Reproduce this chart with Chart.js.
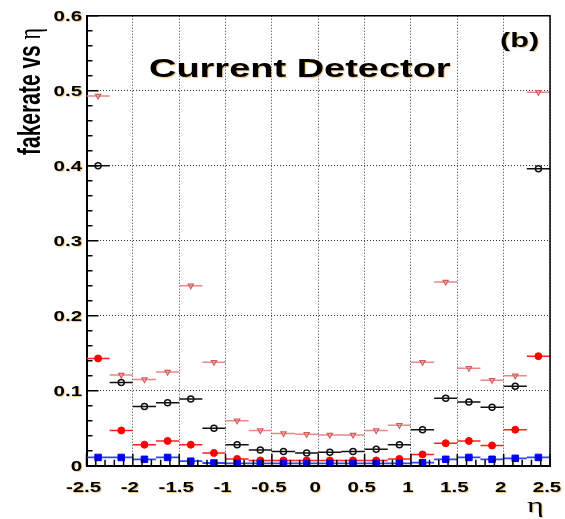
<!DOCTYPE html>
<html>
<head>
<meta charset="utf-8">
<script src="https://cdn.jsdelivr.net/npm/chart.js@4/dist/chart.umd.min.js"></script>
<style>
  html, body { margin: 0; padding: 0; background: #fff; }
  #wrap { width: 565px; height: 519px; }
</style>
</head>
<body>
<div id="wrap"><canvas id="chart" width="565" height="519"></canvas></div>
<script>
// bin edges in eta (20 bins of 0.25)
var etaEdges = [-2.5, -2.25, -2, -1.75, -1.5, -1.25, -1, -0.75, -0.5, -0.25, 0,
                0.25, 0.5, 0.75, 1, 1.25, 1.5, 1.75, 2, 2.25, 2.5];

// fake rate per bin
var fakePink  = [0.493, 0.121, 0.115, 0.125, 0.240, 0.138, 0.060, 0.047, 0.043, 0.042,
                 0.041, 0.041, 0.047, 0.054, 0.138, 0.245, 0.130, 0.114, 0.120, 0.498];
var fakeBlack = [0.400, 0.111, 0.079, 0.084, 0.089, 0.050, 0.028, 0.021, 0.019, 0.017,
                 0.018, 0.019, 0.022, 0.028, 0.048, 0.090, 0.085, 0.078, 0.106, 0.396];
var fakeRed   = [0.143, 0.047, 0.028, 0.033, 0.028, 0.017, 0.009, 0.007, 0.007, 0.007,
                 0.007, 0.007, 0.007, 0.009, 0.015, 0.030, 0.033, 0.027, 0.048, 0.146];
var fakeBlue  = [0.011, 0.011, 0.0085, 0.011, 0.006, 0.0036, 0.003, 0.003, 0.003, 0.003,
                 0.003, 0.003, 0.003, 0.003, 0.004, 0.0085, 0.011, 0.0085, 0.0098, 0.011];

var xTickLabels = ['-2.5', '-2', '-1.5', '-1', '-0.5', '0', '0.5', '1', '1.5', '2', '2.5'];
var yTickLabels = ['0', '0.1', '0.2', '0.3', '0.4', '0.5', '0.6'];

var SX = 1.46; // the picture is stretched sideways, text too

// each bin -> left edge, centre (marker), right edge, then a gap
function binSegments(values) {
    var pts = [];
    for (var i = 0; i < values.length; i++) {
        pts.push({x: etaEdges[i], y: values[i]});
        pts.push({x: (etaEdges[i] + etaEdges[i + 1]) / 2, y: values[i]});
        pts.push({x: etaEdges[i + 1], y: values[i]});
        pts.push({x: etaEdges[i + 1], y: null});
    }
    return pts;
}

function markerOnly(r) {
    return function (ctx) { return ctx.index % 4 === 1 ? r : 0; };
}

function stretchedText(ctx, txt, x, y, font, align) {
    ctx.save();
    ctx.font = font;
    ctx.textAlign = align || 'left';
    ctx.textBaseline = 'alphabetic';
    ctx.shadowColor = 'rgba(220,150,20,0.55)';
    ctx.shadowOffsetX = 1;
    ctx.shadowOffsetY = 1;
    ctx.shadowBlur = 1;
    ctx.translate(x, y);
    ctx.scale(SX, 1);
    ctx.fillText(txt, 0, 0);
    ctx.restore();
}

var frameAndText = {
    id: 'frameAndText',
    afterDraw: function (chart) {
        var ctx = chart.ctx;
        var a = chart.chartArea;
        var xs = chart.scales.x;
        var ys = chart.scales.y;
        ctx.save();
        ctx.strokeStyle = '#000';
        ctx.fillStyle = '#000';

        // top / right frame
        ctx.lineWidth = 1.5;
        ctx.beginPath();
        ctx.moveTo(a.left, a.top);
        ctx.lineTo(a.right, a.top);
        ctx.lineTo(a.right, a.bottom);
        ctx.stroke();

        // inward ticks
        ctx.lineWidth = 1.5;
        ctx.beginPath();
        for (var k = 0; k <= 50; k++) {
            var xv = -2.5 + k * 0.1;
            var px = xs.getPixelForValue(xv);
            var len = (k % 5 === 0) ? 12 : 6;
            ctx.moveTo(px, a.bottom);
            ctx.lineTo(px, a.bottom - len);
        }
        for (var j = 0; j <= 30; j++) {
            var yv = j * 0.02;
            var py = ys.getPixelForValue(yv);
            var ylen = (j % 5 === 0) ? 12 : 6;
            ctx.moveTo(a.left, py);
            ctx.lineTo(a.left + ylen, py);
        }
        ctx.stroke();

        // tick labels
        var tickFont = 'bold 14px "Liberation Sans", Arial, sans-serif';
        for (var i = 0; i < xTickLabels.length; i++) {
            var lx = xs.getPixelForValue(parseFloat(xTickLabels[i]));
            stretchedText(ctx, xTickLabels[i], lx - 3, 492, tickFont, 'center');
        }
        for (var m = 0; m < yTickLabels.length; m++) {
            var ly = ys.getPixelForValue(parseFloat(yTickLabels[m]));
            stretchedText(ctx, yTickLabels[m], 82, ly + 5, tickFont, 'right');
        }

        // titles
        stretchedText(ctx, 'Current Detector', 149, 77, 'bold 26px "Liberation Sans", Arial, sans-serif', 'left');
        stretchedText(ctx, '(b)', 500, 47, 'bold 21px "Liberation Sans", Arial, sans-serif', 'left');
        stretchedText(ctx, '\u03b7', 527, 512, '22px "Liberation Serif", "DejaVu Serif", serif', 'left');

        // y title, rotated
        ctx.save();
        ctx.translate(40, 155);
        ctx.rotate(-Math.PI / 2);
        ctx.scale(1, 1.48);
        ctx.textAlign = 'left';
        ctx.textBaseline = 'alphabetic';
        ctx.font = 'bold 21px "Liberation Sans", Arial, sans-serif';
        var lead = 'fakerate vs ';
        ctx.fillText(lead, 0, 0);
        var w = ctx.measureText(lead).width;
        ctx.font = '22px "Liberation Serif", "DejaVu Serif", serif';
        ctx.fillText('\u03b7', w, 0);
        ctx.restore();

        ctx.restore();
    }
};

new Chart(document.getElementById('chart').getContext('2d'), {
    type: 'line',
    data: {
        datasets: [{
            label: 'blue',
            data: binSegments(fakeBlue),
            borderColor: '#3344ff',
            backgroundColor: '#0000ff',
            pointBorderColor: '#0000ff',
            borderWidth: 1.8,
            pointStyle: 'rect',
            pointRadius: markerOnly(4.6),
            pointBorderWidth: 1
        }, {
            label: 'red',
            data: binSegments(fakeRed),
            borderColor: '#ff2020',
            backgroundColor: '#ff0000',
            pointBorderColor: '#ff0000',
            borderWidth: 1.6,
            pointStyle: 'circle',
            pointRadius: markerOnly(3.5),
            pointBorderWidth: 1
        }, {
            label: 'black',
            data: binSegments(fakeBlack),
            borderColor: '#111',
            backgroundColor: 'rgba(255,255,255,0)',
            pointBorderColor: '#111',
            borderWidth: 1.5,
            pointStyle: 'circle',
            pointRadius: markerOnly(3),
            pointBorderWidth: 1.5
        }, {
            label: 'pink',
            data: binSegments(fakePink),
            borderColor: '#e58a8a',
            backgroundColor: 'rgba(255,255,255,0)',
            pointBorderColor: '#d45a5a',
            borderWidth: 1.5,
            pointStyle: 'triangle',
            pointRotation: 180,
            pointRadius: markerOnly(3),
            pointBorderWidth: 1.2
        }]
    },
    options: {
        responsive: false,
        animation: false,
        devicePixelRatio: 1,
        spanGaps: false,
        layout: { padding: { left: 86.5, right: 15, top: 15.7, bottom: 53.3 } },
        plugins: {
            legend: { display: false },
            tooltip: { enabled: false }
        },
        elements: { line: { tension: 0 } },
        scales: {
            x: {
                type: 'linear',
                min: -2.5,
                max: 2.5,
                ticks: { stepSize: 0.5, display: false },
                grid: { color: '#333', lineWidth: 1, drawTicks: false },
                border: { display: true, color: '#000', width: 2, dash: [1, 2] }
            },
            y: {
                min: 0,
                max: 0.6,
                ticks: { stepSize: 0.1, display: false },
                grid: { color: '#333', lineWidth: 1, drawTicks: false },
                border: { display: true, color: '#000', width: 2, dash: [1, 2] }
            }
        }
    },
    plugins: [frameAndText]
});
</script>
</body>
</html>
